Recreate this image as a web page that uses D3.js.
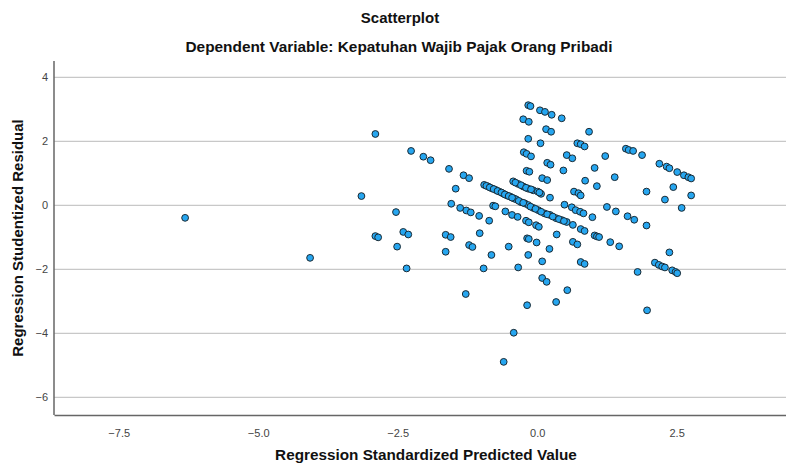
<!DOCTYPE html>
<html><head><meta charset="utf-8">
<script src="https://cdn.jsdelivr.net/npm/d3@7"></script>
<style>body{margin:0;background:#fff}svg{display:block}text{font-family:"Liberation Sans",Arial,sans-serif}</style>
</head><body><svg id="c" width="786" height="464"></svg>
<script>
const predicted = [-6.31,-4.07,-2.90,-3.15,-2.90,-2.85,-2.53,-2.51,-2.40,-2.31,-2.34,-2.26,-2.04,-1.91,-1.58,-1.46,-1.54,-1.38,-1.64,-1.55,-1.64,-1.28,-0.18,0.34,0.54,-0.42,-0.60,1.97,
-0.16,-0.12,0.05,0.14,0.26,0.44,-0.25,-0.15,0.16,0.25,-0.16,0.06,0.72,-0.24,-0.19,-0.11,0.53,0.63,0.18,0.24,-0.19,-0.14,0.47,-1.32,-1.22,0.09,0.18,
-0.43,-0.34,-0.25,-0.16,-0.07,0.01,0.07,0.23,0.66,0.74,0.78,0.93,0.78,0.85,1.59,1.64,1.72,1.88,1.22,1.03,2.19,2.32,2.37,2.51,2.63,2.71,2.76,
0.86,1.39,1.07,1.96,2.44,2.29,2.76,2.59,0.62,0.69,0.77,0.83,0.99,1.25,1.41,1.62,1.74,1.96,0.64,0.78,0.85,1.03,1.07,1.11,0.64,0.72,1.31,1.47,2.37,
0.78,0.85,2.11,2.18,2.24,2.29,1.80,2.42,2.48,2.51,
-0.95,-0.88,-0.81,-0.74,-0.68,-0.61,-0.54,-0.48,-0.42,-0.38,-0.29,-0.22,-0.16,-0.07,0.02,0.13,0.23,0.34,0.44,0.53,
0.49,-0.79,-0.75,-1.27,-1.19,-1.04,-0.86,-0.57,-0.45,-0.35,-0.20,-0.15,-0.02,0.03,0.35,-1.03,-0.18,-0.15,-0.01,-1.22,-1.16,-0.51,0.22,-0.82,-0.16,0.09,-0.96,-0.34,0.09,0.17,
-0.91,-0.85,-0.78,-0.71,-0.64,-0.58,-0.51,-0.45,-0.33,-0.25,-0.12,-0.03,0.07,0.18,0.28,0.39,0.48,
-0.39,-0.29,-0.20,-0.11,0.04];
const residual = [-0.39,-1.64,2.23,0.29,-0.96,-1.00,-0.21,-1.29,-0.83,-0.91,-1.97,1.70,1.52,1.41,1.14,0.52,0.05,-0.08,-0.92,-0.99,-1.45,-2.77,-3.12,-3.02,-2.65,-3.98,-4.89,-3.28,
3.13,3.10,2.97,2.92,2.83,2.72,2.69,2.61,2.38,2.30,2.08,1.94,1.94,1.66,1.61,1.53,1.57,1.47,1.33,1.27,1.08,1.05,1.09,0.94,0.85,0.85,0.79,
0.75,0.67,0.59,0.52,0.47,0.43,0.36,0.24,0.43,0.38,0.31,2.30,1.91,1.84,1.77,1.73,1.70,1.57,1.54,1.17,1.30,1.21,1.16,1.04,0.94,0.88,0.84,
0.77,0.88,0.60,0.43,0.57,0.18,0.31,-0.08,-0.06,-0.15,-0.20,-0.25,-0.37,-0.05,-0.19,-0.34,-0.45,-0.63,-0.61,-0.74,-0.80,-0.94,-0.97,-0.99,-1.14,-1.22,-1.15,-1.28,-1.47,
-1.77,-1.83,-1.79,-1.86,-1.91,-1.94,-2.08,-2.03,-2.08,-2.12,
0.64,0.59,0.53,0.48,0.43,0.37,0.31,0.27,0.22,0.19,0.10,0.06,0.01,-0.08,-0.15,-0.25,-0.30,-0.40,-0.46,-0.52,
0.02,-0.01,-0.03,-0.16,-0.22,-0.33,-0.48,-0.19,-0.30,-0.36,-0.48,-0.53,-0.62,-0.67,-0.91,-0.87,-1.03,-1.05,-1.16,-1.24,-1.30,-1.29,-1.36,-1.55,-1.55,-1.75,-1.97,-1.94,-2.27,-2.39,
0.61,0.56,0.51,0.45,0.40,0.34,0.29,0.24,0.14,0.08,-0.04,-0.11,-0.20,-0.28,-0.35,-0.43,-0.49,
0.71,0.63,0.55,0.50,0.40];
const xTicks = [-7.5,-5.0,-2.5,0.0,2.5];
const yTicks = [4,2,0,-2,-4,-6];
const titleText = "Scatterplot";
const subtitleText = "Dependent Variable: Kepatuhan Wajib Pajak Orang Pribadi";
const xTitle = "Regression Standardized Predicted Value";
const yTitle = "Regression Studentized Residual";

const svg = d3.select("#c");
const L = 54, R = 786, T = 61, B = 415;
const x = d3.scaleLinear().domain([-8.66, 4.46]).range([L, R]);
const y = d3.scaleLinear().domain([-6.55, 4.51]).range([B, T]);

// gridlines
svg.append("g").selectAll("line").data(yTicks).join("line")
  .attr("x1", L).attr("x2", R).attr("y1", d => y(d)).attr("y2", d => y(d))
  .attr("stroke", "#c8c8c8").attr("stroke-width", 1.2);

// axes
const yAxis = d3.axisLeft(y).tickValues(yTicks).tickSize(0).tickPadding(6).tickFormat(d3.format("d"));
const gy = svg.append("g").attr("transform", `translate(${L},0)`).call(yAxis);
const xAxis = d3.axisBottom(x).tickValues(xTicks).tickSize(0).tickPadding(14).tickFormat(d3.format(".1f"));
const gx = svg.append("g").attr("transform", `translate(0,${B})`).call(xAxis);
[gx, gy].forEach(g => {
  g.select(".domain").attr("stroke", "#666").attr("stroke-width", 1.5);
  g.selectAll("text").attr("fill", "#444").attr("font-size", 11).style("font-family", "'Liberation Sans',Arial,sans-serif");
});
gy.select(".domain").attr("d", `M0,${T}V${B}`);

// points
svg.append("g").selectAll("circle").data(predicted.map((p, i) => [p, residual[i]])).join("circle")
  .attr("cx", d => x(d[0])).attr("cy", d => y(d[1])).attr("r", 3.4)
  .attr("fill", "#26a6f0").attr("stroke", "#1b2a33").attr("stroke-width", 1);

// titles
svg.append("text").attr("x", 400).attr("y", 23).attr("text-anchor", "middle")
  .attr("font-size", 15).attr("font-weight", "bold").attr("fill", "#111").text(titleText);
svg.append("text").attr("x", 399).attr("y", 52).attr("text-anchor", "middle")
  .attr("font-size", 15.4).attr("font-weight", "bold").attr("fill", "#111").text(subtitleText);
svg.append("text").attr("x", 426).attr("y", 460).attr("text-anchor", "middle")
  .attr("font-size", 15.3).attr("font-weight", "bold").attr("fill", "#111").text(xTitle);
svg.append("text").attr("transform", `translate(23,${(T + B) / 2}) rotate(-90)`).attr("text-anchor", "middle")
  .attr("font-size", 15).attr("font-weight", "bold").attr("fill", "#111").text(yTitle);
</script></body></html>
